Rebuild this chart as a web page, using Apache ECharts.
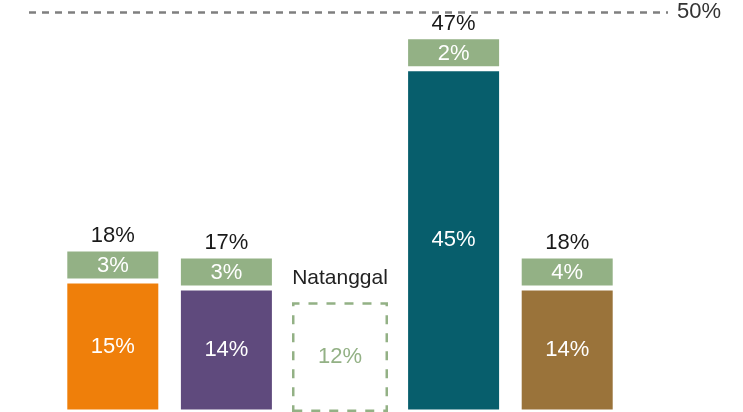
<!DOCTYPE html>
<html>
<head>
<meta charset="utf-8">
<script src="https://cdn.jsdelivr.net/npm/echarts@6/dist/echarts.min.js"></script>
<style>
  html, body { margin: 0; padding: 0; background: #fff; }
  #chart { width: 743px; height: 412px; }
</style>
</head>
<body>
<div id="chart"></div>
<script>
  // 数据
  var categories = ['A', 'B', 'C', 'D', 'E'];
  var baseShare = [15, 14, null, 45, 14];
  var addedShare = [3, 3, null, 2, 4];
  var totalShare = [18, 17, null, 47, 18];
  var removedShare = [null, null, 12, null, null];
  var removedLabel = 'Natanggal';
  var targetShare = 50;

  // 样式
  var barColors = ['#EF7F0A', '#5F4A7D', '#93B185', '#075E6C', '#9A733A'];
  var green = '#93B185';
  var font = "'Liberation Sans', Arial, sans-serif";
  var greenHeight = 32;

  var myChart = echarts.init(document.getElementById('chart'));
  myChart.setOption({
    animation: false,
    textStyle: { fontFamily: font },
    grid: { left: 56, right: 119, top: 12, bottom: 0 },
    xAxis: { type: 'category', data: categories, show: false },
    yAxis: [
      // 柱子
      { type: 'value', show: false, min: -3.5, max: 53, startValue: -3.5 },
      // 参考线
      { type: 'value', show: false, min: 0, max: 50 }
    ],
    series: [
      {
        name: 'base',
        type: 'bar',
        stack: 'share',
        barWidth: 96,
        barGap: '-100%',
        data: baseShare,
        itemStyle: {
          color: function (p) { return barColors[p.dataIndex]; },
          borderColor: '#fff',
          borderWidth: 2.5
        },
        label: {
          show: true,
          position: 'inside',
          color: '#fff',
          fontSize: 22,
          formatter: '{c}%'
        }
      },
      {
        name: 'added',
        type: 'bar',
        stack: 'share',
        barWidth: 96,
        barGap: '-100%',
        barMinHeight: greenHeight,
        data: addedShare,
        itemStyle: { color: green, borderColor: '#fff', borderWidth: 2.5 },
        label: {
          show: true,
          position: 'insideBottom',
          distance: 0,
          formatter: function (p) {
            return '{t|' + totalShare[p.dataIndex] + '%}\n{g|' + p.value + '%}';
          },
          rich: {
            t: { color: '#1a1a1a', fontSize: 22, lineHeight: 31 },
            g: { color: '#fff', fontSize: 22, lineHeight: greenHeight - 2.5 }
          }
        }
      },
      {
        name: 'removed',
        type: 'bar',
        barWidth: 96,
        barGap: '-100%',
        data: removedShare,
        itemStyle: {
          color: 'rgba(0,0,0,0)',
          borderColor: green,
          borderWidth: 2.5,
          borderType: [9, 9]
        },
        label: {
          show: true,
          position: 'inside',
          color: green,
          fontSize: 22,
          formatter: '{c}%'
        },
        markPoint: {
          symbol: 'rect',
          symbolSize: 0,
          silent: true,
          label: {
            show: true,
            position: 'top',
            distance: 14,
            color: '#222',
            fontSize: 21,
            formatter: removedLabel
          },
          data: [{ coord: [categories[2], removedShare[2]], value: removedLabel }]
        }
      },
      {
        name: 'target',
        type: 'line',
        yAxisIndex: 1,
        data: [],
        markLine: {
          silent: true,
          symbol: ['none', 'none'],
          lineStyle: { color: '#7F7F7F', width: 2.5, type: [7, 6] },
          label: {
            show: true,
            position: 'end',
            distance: 9,
            color: '#333',
            fontSize: 22,
            formatter: targetShare + '%'
          },
          data: [[{ x: 29, yAxis: targetShare }, { x: 668, yAxis: targetShare }]]
        }
      }
    ]
  });
</script>
</body>
</html>
